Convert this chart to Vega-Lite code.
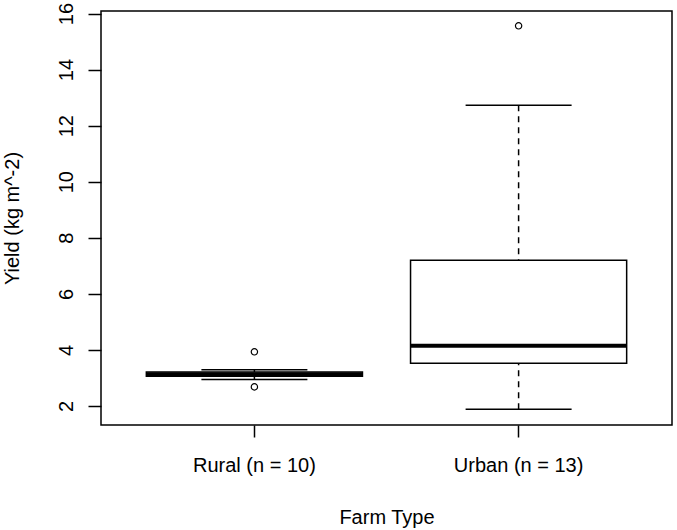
{
  "$schema": "https://vega.github.io/schema/vega-lite/v6.json",
  "width": 571,
  "height": 414,
  "autosize": "none",
  "padding": {"left": 101, "top": 11, "right": 5, "bottom": 105},
  "background": "white",
  "config": {
    "view": {"stroke": "black", "strokeWidth": 1.5},
    "font": "Liberation Sans",
    "axis": {
      "domain": false,
      "grid": false,
      "tickColor": "black",
      "tickWidth": 1.5,
      "labelColor": "black",
      "titleColor": "black",
      "labelFont": "Liberation Sans",
      "titleFont": "Liberation Sans",
      "labelFontSize": 20,
      "titleFontSize": 20,
      "labelFontWeight": "normal",
      "titleFontWeight": "normal"
    }
  },
  "datasets": {
    "boxes": [
      {"type": "Rural (n = 10)", "lower": 2.94, "q1": 3.06, "median": 3.13, "q3": 3.21, "upper": 3.29},
      {"type": "Urban (n = 13)", "lower": 1.88, "q1": 3.52, "median": 4.15, "q3": 7.2, "upper": 12.73}
    ],
    "outliers": [
      {"type": "Rural (n = 10)", "value": 3.93},
      {"type": "Rural (n = 10)", "value": 2.68},
      {"type": "Urban (n = 13)", "value": 15.56}
    ]
  },
  "encoding": {
    "x": {
      "field": "type",
      "type": "nominal",
      "sort": ["Rural (n = 10)", "Urban (n = 13)"],
      "scale": {"domain": ["Rural (n = 10)", "Urban (n = 13)"], "paddingInner": 0.182, "paddingOuter": 0.1716},
      "axis": {
        "title": "Farm Type",
        "labelAngle": 0,
        "tickSize": 12,
        "labelPadding": 34,
        "labelBaseline": "alphabetic",
        "titleBaseline": "alphabetic",
        "titleY": 98,
        "titleAnchor": "middle"
      }
    }
  },
  "layer": [
    {
      "data": {"name": "boxes"},
      "mark": {"type": "rule", "color": "black", "opacity": 1, "strokeWidth": 1.5, "strokeDash": [6, 5]},
      "encoding": {
        "y": {"field": "upper", "type": "quantitative", "scale": {"domain": [1.32, 16.09], "nice": false, "zero": false},
          "axis": {
            "title": "Yield (kg m^-2)",
            "values": [2, 4, 6, 8, 10, 12, 14, 16],
            "tickSize": 13,
            "labelAngle": -90,
            "labelAlign": "center",
            "labelBaseline": "alphabetic",
            "labelPadding": 16,
            "titleAngle": -90,
            "titleAlign": "center",
            "titleBaseline": "alphabetic",
            "titleX": -83,
            "titleY": 207
          }
        },
        "y2": {"field": "q3"}
      }
    },
    {
      "data": {"name": "boxes"},
      "mark": {"type": "rule", "color": "black", "opacity": 1, "strokeWidth": 1.5, "strokeDash": [6, 5]},
      "encoding": {
        "y": {"field": "lower", "type": "quantitative"},
        "y2": {"field": "q1"}
      }
    },
    {
      "data": {"name": "boxes"},
      "mark": {"type": "tick", "color": "black", "opacity": 1, "size": 106, "thickness": 1.5},
      "encoding": {"y": {"field": "upper", "type": "quantitative"}}
    },
    {
      "data": {"name": "boxes"},
      "mark": {"type": "tick", "color": "black", "opacity": 1, "size": 106, "thickness": 1.5},
      "encoding": {"y": {"field": "lower", "type": "quantitative"}}
    },
    {
      "data": {"name": "boxes"},
      "mark": {"type": "rect", "fill": "white", "stroke": "black", "opacity": 1, "strokeWidth": 1.5},
      "encoding": {
        "y": {"field": "q1", "type": "quantitative"},
        "y2": {"field": "q3"}
      }
    },
    {
      "data": {"name": "boxes"},
      "mark": {"type": "tick", "color": "black", "opacity": 1, "size": 216, "thickness": 4},
      "encoding": {"y": {"field": "median", "type": "quantitative"}}
    },
    {
      "data": {"name": "outliers"},
      "mark": {"type": "point", "shape": "circle", "filled": false, "color": "black", "size": 40, "strokeWidth": 1.2, "opacity": 1},
      "encoding": {"y": {"field": "value", "type": "quantitative"}}
    }
  ]
}
